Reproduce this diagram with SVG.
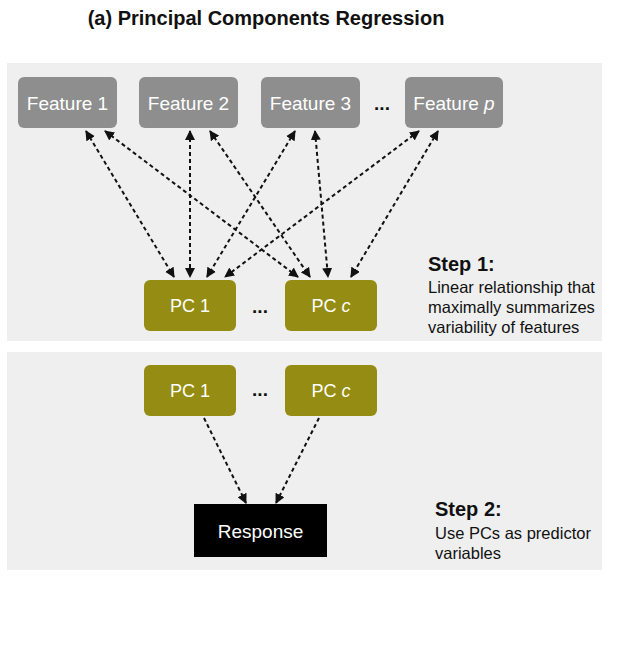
<svg xmlns="http://www.w3.org/2000/svg" width="622" height="667" viewBox="0 0 622 667">
<style>
text{font-family:"Liberation Sans",Arial,sans-serif}
.panel{fill:#efefef}
.feat{fill:#8e8e8e}
.pc{fill:#958d13}
.lbl{fill:#fff;font-size:19px;text-anchor:middle}
.pcl{fill:#fff;font-size:18px;text-anchor:middle}
.dots{fill:#111;font-size:19px;font-weight:bold;text-anchor:middle}
.step{fill:#111;font-size:20px;font-weight:bold}
.desc{fill:#111;font-size:16.5px}
.con{stroke:#111;stroke-width:2;stroke-dasharray:4 3;fill:none}
</style>
<defs>
<marker id="ah" viewBox="0 0 10 10" refX="9" refY="5" markerWidth="5" markerHeight="5" orient="auto-start-reverse" markerUnits="strokeWidth">
<path d="M0,0 L10,5 L0,10 z" fill="#111"/>
</marker>
</defs>
<text x="266" y="25" text-anchor="middle" font-size="20" font-weight="bold" fill="#111">(a) Principal Components Regression</text>
<rect class="panel" x="7" y="63" width="595" height="278"/>
<rect class="panel" x="7" y="352" width="595" height="218"/>
<g id="feature1"><rect class="feat" x="18" y="77" width="99" height="51" rx="6"/><text class="lbl" x="67.5" y="110">Feature 1</text></g>
<g id="feature2"><rect class="feat" x="139" y="77" width="99" height="51" rx="6"/><text class="lbl" x="188.5" y="110">Feature 2</text></g>
<g id="feature3"><rect class="feat" x="261" y="77" width="99" height="51" rx="6"/><text class="lbl" x="310.5" y="110">Feature 3</text></g>
<text class="dots" x="382" y="110">...</text>
<g id="featurep"><rect class="feat" x="405" y="77" width="98" height="51" rx="6"/><text class="lbl" x="454" y="110">Feature <tspan font-style="italic">p</tspan></text></g>
<g id="pc1a"><rect class="pc" x="144" y="280" width="92" height="51" rx="6"/><text class="pcl" x="190" y="312">PC 1</text></g>
<text class="dots" x="260" y="313">...</text>
<g id="pcca"><rect class="pc" x="285" y="280" width="92" height="51" rx="6"/><text class="pcl" x="331" y="312">PC <tspan font-style="italic">c</tspan></text></g>
<g id="step1"><text class="step" x="428" y="271">Step 1:</text><text class="desc" x="428" y="293">Linear relationship that</text><text class="desc" x="428" y="313">maximally summarizes</text><text class="desc" x="428" y="333">variability of features</text></g>
<g id="pc1b"><rect class="pc" x="144" y="365" width="92" height="51" rx="6"/><text class="pcl" x="190" y="397">PC 1</text></g>
<text class="dots" x="260" y="396">...</text>
<g id="pccb"><rect class="pc" x="285" y="365" width="92" height="51" rx="6"/><text class="pcl" x="331" y="397">PC <tspan font-style="italic">c</tspan></text></g>
<g id="response"><rect fill="#000" x="194" y="504" width="133" height="53"/><text class="lbl" x="260.5" y="538">Response</text></g>
<g id="step2"><text class="step" x="435" y="516">Step 2:</text><text class="desc" x="435" y="539">Use PCs as predictor</text><text class="desc" x="435" y="559">variables</text></g>
<g id="connectors">
<line class="con" marker-start="url(#ah)" marker-end="url(#ah)" x1="86" y1="131" x2="174" y2="277"/>
<line class="con" marker-start="url(#ah)" marker-end="url(#ah)" x1="105" y1="131" x2="298" y2="277"/>
<line class="con" marker-start="url(#ah)" marker-end="url(#ah)" x1="190" y1="131" x2="190" y2="277"/>
<line class="con" marker-start="url(#ah)" marker-end="url(#ah)" x1="210" y1="131" x2="310" y2="277"/>
<line class="con" marker-start="url(#ah)" marker-end="url(#ah)" x1="295" y1="131" x2="207" y2="277"/>
<line class="con" marker-start="url(#ah)" marker-end="url(#ah)" x1="315" y1="131" x2="328" y2="277"/>
<line class="con" marker-start="url(#ah)" marker-end="url(#ah)" x1="419" y1="131" x2="225" y2="277"/>
<line class="con" marker-start="url(#ah)" marker-end="url(#ah)" x1="438" y1="131" x2="351" y2="277"/>
<line class="con" marker-end="url(#ah)" x1="204" y1="418" x2="246" y2="503"/>
<line class="con" marker-end="url(#ah)" x1="319" y1="418" x2="276" y2="503"/>
</g>
</svg>
